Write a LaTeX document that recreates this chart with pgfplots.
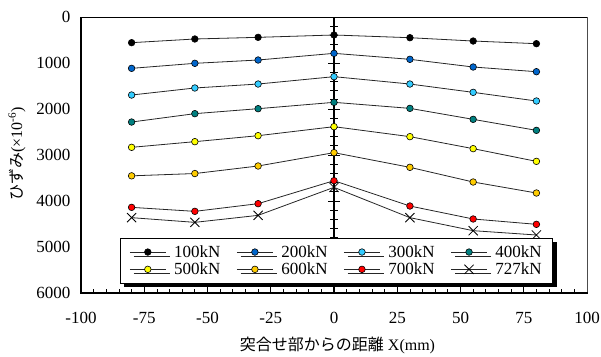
\documentclass[border=0pt]{standalone}
\usepackage{fontspec}
\setmainfont{Liberation Serif}
\newfontfamily\jp{Noto Sans CJK JP}
\usepackage{pgfplots}
\pgfplotsset{compat=1.18}
\usetikzlibrary{shadows}
\definecolor{c100}{RGB}{0,0,0}
\definecolor{c200}{RGB}{0,102,204}
\definecolor{c300}{RGB}{51,204,255}
\definecolor{c400}{RGB}{0,128,128}
\definecolor{c500}{RGB}{255,255,0}
\definecolor{c600}{RGB}{255,204,0}
\definecolor{c700}{RGB}{255,0,0}
\begin{document}
\begin{tikzpicture}
\pgfplotsset{common/.style={scale only axis, width=506pt, height=276pt,
  xmin=-100, xmax=100, ymin=0, ymax=6000, y dir=reverse, at={(0,0)}, anchor=south west}}
% central y axis with crossing ticks
\begin{axis}[common, axis x line=none, axis y line=center,
  axis line style={-, line width=1.2pt},
  ytick={0,1000,...,6000}, minor y tick num=4, yticklabels={},
  tick align=center, major tick length=12pt, minor tick length=8pt,
  every tick/.style={black, line width=1pt}]
\end{axis}
\begin{axis}[common, axis line style={draw=none},
  xtick={-100,-75,...,100}, minor x tick num=4, xtick pos=left,
  ytick={0,1000,...,6000}, ytick style={draw=none},
  tick align=inside, major tick length=6pt, minor tick length=4pt,
  every tick/.style={black, line width=0.8pt},
  /pgf/number format/assume math mode=true, /pgf/number format/1000 sep={},
  xticklabel style={font=\fontsize{17}{20}\selectfont, yshift=-16pt},
  yticklabel style={font=\fontsize{17}{20}\selectfont, xshift=-7pt},
  legend columns=4,
  legend cell align=left,
  legend style={at={(0.0771,0.1993)}, anchor=north west, draw=black, line width=0.8pt,
    fill=white, font=\fontsize{17}{18}\selectfont, inner xsep=9pt, inner ysep=5pt,
    drop shadow={shadow xshift=4pt, shadow yshift=-4pt, fill=black, opacity=1},
    /tikz/every odd column/.append style={column sep=6pt},
    /tikz/every even column/.append style={column sep=14pt}},
  legend image code/.code={\draw[mark repeat=2,mark phase=2] plot coordinates {(0pt,0pt) (18pt,0pt) (36pt,0pt)};},
  every axis plot/.append style={black!85, line width=0.8pt}]
\addplot[mark=*, mark size=3.3pt, mark options={fill=c100, draw=black, line width=0.6pt}] coordinates {(-80,558) (-55,478) (-30,442) (0,391) (30,450) (55,522) (80,580)};
\addlegendentry{100kN}
\addplot[mark=*, mark size=3.3pt, mark options={fill=c200, draw=black, line width=0.6pt}] coordinates {(-80,1116) (-55,1007) (-30,935) (0,790) (30,920) (55,1087) (80,1189)};
\addlegendentry{200kN}
\addplot[mark=*, mark size=3.3pt, mark options={fill=c300, draw=black, line width=0.6pt}] coordinates {(-80,1696) (-55,1543) (-30,1457) (0,1297) (30,1457) (55,1638) (80,1826)};
\addlegendentry{300kN}
\addplot[mark=*, mark size=3.3pt, mark options={fill=c400, draw=black, line width=0.6pt}] coordinates {(-80,2283) (-55,2101) (-30,1993) (0,1855) (30,1986) (55,2225) (80,2464)};
\addlegendentry{400kN}
\addplot[mark=*, mark size=3.3pt, mark options={fill=c500, draw=black, line width=0.6pt}] coordinates {(-80,2833) (-55,2710) (-30,2580) (0,2384) (30,2601) (55,2862) (80,3138)};
\addlegendentry{500kN}
\addplot[mark=*, mark size=3.3pt, mark options={fill=c600, draw=black, line width=0.6pt}] coordinates {(-80,3453) (-55,3403) (-30,3239) (0,2949) (30,3268) (55,3587) (80,3826)};
\addlegendentry{600kN}
\addplot[mark=*, mark size=3.3pt, mark options={fill=c700, draw=black, line width=0.6pt}] coordinates {(-80,4138) (-55,4225) (-30,4058) (0,3558) (30,4109) (55,4391) (80,4507)};
\addlegendentry{700kN}
\addplot[mark=x, mark size=6.5pt, mark options={draw=black, line width=0.8pt}] coordinates {(-80,4362) (-55,4464) (-30,4312) (0,3703) (30,4362) (55,4645) (80,4739)};
\addlegendentry{727kN}
\end{axis}
% frame
\draw[line width=0.8pt] (0,276pt) -- (506pt,276pt);
\draw[line width=1pt, black!70] (506pt,0) -- (506pt,276pt);
\draw[line width=1.8pt] (0,0) -- (0,276pt);
\draw[line width=2.5pt] (-0.9pt,0) -- (506.5pt,0);
\node[font=\fontsize{16}{19}\selectfont] at (256.5pt,-52pt) {{\jp 突合せ部からの距離} X(mm)};
\node[font=\fontsize{16}{19}\selectfont, rotate=90] at (-64pt,139pt) {{\jp ひずみ}(×10\textsuperscript{-6})};
\pgfresetboundingbox
\path[use as bounding box] (-81pt,-63pt) rectangle (520pt,293pt);
\end{tikzpicture}
\end{document}
